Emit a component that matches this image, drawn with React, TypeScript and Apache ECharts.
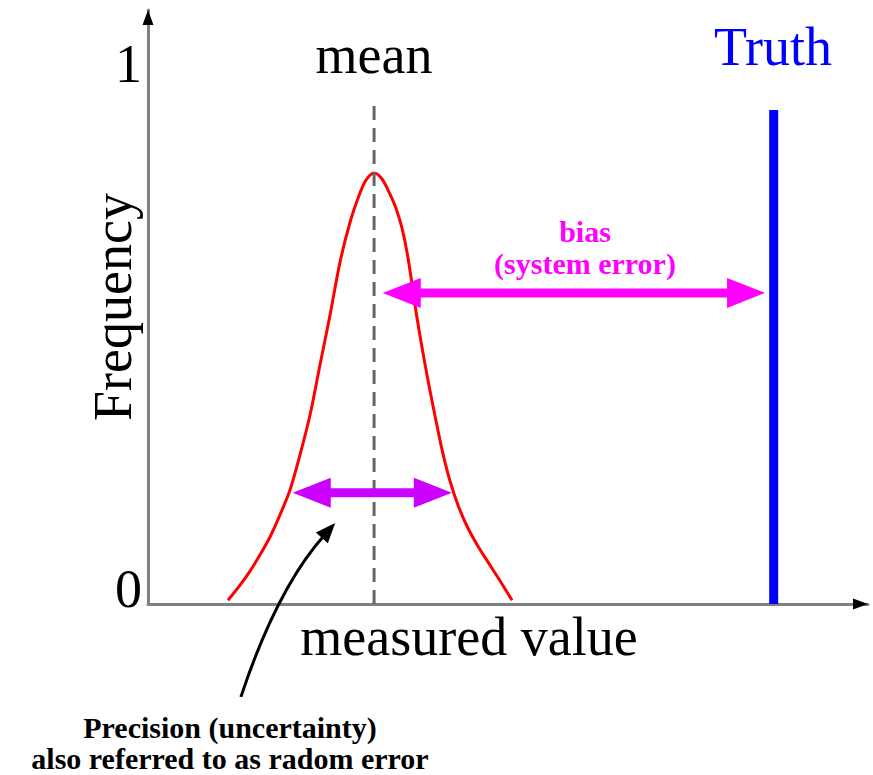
import React, { useEffect, useRef } from 'react';
import * as echarts from 'echarts';

const curveX = [11.11, 12.78, 14.17, 15.56, 16.94, 18.33, 19.72, 21.11, 22.5, 23.89, 25.28, 26.67, 28.06, 29.44, 30.28, 31.39, 32.5, 33.61, 34.44, 35.28, 36.11, 37.36, 38.75, 40.14, 40.97, 41.94, 43.06, 44.31, 45.83, 47.5, 48.89, 50.56];
const curveY = [0.007, 0.035, 0.061, 0.091, 0.124, 0.165, 0.211, 0.276, 0.35, 0.443, 0.535, 0.633, 0.707, 0.761, 0.785, 0.798, 0.787, 0.759, 0.733, 0.696, 0.641, 0.53, 0.424, 0.33, 0.278, 0.228, 0.183, 0.144, 0.107, 0.072, 0.043, 0.007];

// Mean (dashed) and truth (blue) lines: [x, top]
const meanLine = [31.4, 0.937];
const truthLine = [86.9, 0.915];

// Double arrows: [xStart, xEnd, y]
const biasArrow = [32.6, 85.7, 0.576];
const precisionArrow = [20.1, 42.2, 0.206];

// Curved pointer: [x0, y0, controlX, controlY, tipX, tipY]
const pointerCurve = [12.9, -0.172, 17.9, 0.029, 26.0, 0.15];

// Axis extents and tick labels
const xRange = [0, 100];
const yRange = [0, 1.1];
const yTickValues = [0, 1];
const yTickLabels = ['0', '1'];

const SERIF = "'Liberation Serif', 'Times New Roman', Times, serif";

export default function App() {
  const ref = useRef<HTMLDivElement>(null);

  useEffect(() => {
    document.body.style.margin = '0';
    const chart = echarts.init(ref.current!, null, { renderer: 'svg' });

    const doubleArrow = (color: string) => (params: any, api: any) => {
      const p1 = api.coord([api.value(0), api.value(2)]);
      const p2 = api.coord([api.value(1), api.value(2)]);
      const L = 38;
      const H = 15;
      const T = 9;
      const y = p1[1];
      return {
        type: 'group',
        children: [
          {
            type: 'rect',
            shape: { x: p1[0] + L - 2, y: y - T / 2, width: p2[0] - p1[0] - 2 * L + 4, height: T },
            style: { fill: color },
          },
          {
            type: 'polygon',
            shape: { points: [[p1[0], y], [p1[0] + L, y - H], [p1[0] + L, y + H]] },
            style: { fill: color },
          },
          {
            type: 'polygon',
            shape: { points: [[p2[0], y], [p2[0] - L, y - H], [p2[0] - L, y + H]] },
            style: { fill: color },
          },
        ],
      };
    };

    const option: any = {
      animation: false,
      grid: { left: 148, top: 10, width: 720, height: 594 },
      xAxis: {
        type: 'value',
        min: xRange[0],
        max: xRange[1],
        axisLine: { show: true, lineStyle: { color: '#808080', width: 3 } },
        axisTick: { show: false },
        axisLabel: { show: false },
        splitLine: { show: false },
        name: 'measured value',
        nameLocation: 'middle',
        nameGap: 6,
        nameMoveOverlap: false,
        nameTextStyle: { fontFamily: SERIF, fontSize: 54, color: '#000', padding: [0, 78, 0, 0] },
      },
      yAxis: {
        type: 'value',
        min: yRange[0],
        max: yRange[1],
        interval: 1,
        axisLine: { show: true, lineStyle: { color: '#808080', width: 3 } },
        axisTick: { show: false },
        splitLine: { show: false },
        axisLabel: {
          margin: 6,
          fontFamily: SERIF,
          fontSize: 54,
          color: '#000',
          formatter: (v: number) => {
            const i = yTickValues.indexOf(v);
            if (i < 0) return '';
            return i === 0 ? '{z|' + yTickLabels[i] + '}' : yTickLabels[i];
          },
          rich: { z: { fontFamily: SERIF, fontSize: 54, color: '#000', padding: [0, 0, 30, 0] } },
        },
        name: 'Frequency',
        nameLocation: 'middle',
        nameRotate: 90,
        nameGap: 8,
        nameMoveOverlap: false,
        nameTextStyle: { fontFamily: SERIF, fontSize: 54, color: '#000' },
      },
      series: [
        {
          type: 'line',
          data: curveX.map((x, i) => [x, curveY[i]]),
          smooth: 0.3,
          symbol: 'none',
          lineStyle: { color: '#ff0000', width: 3 },
          z: 2,
        },
        {
          type: 'line',
          data: [[meanLine[0], 0], [meanLine[0], meanLine[1]]],
          symbol: 'none',
          lineStyle: { color: '#666666', width: 3, type: [14, 8] },
          z: 3,
        },
        {
          type: 'line',
          data: [[truthLine[0], 0], [truthLine[0], truthLine[1]]],
          symbol: 'none',
          lineStyle: { color: '#0000ff', width: 9, cap: 'butt' },
          z: 3,
        },
        {
          type: 'custom',
          data: [biasArrow],
          renderItem: doubleArrow('#ff00ff'),
          z: 4,
        },
        {
          type: 'custom',
          data: [precisionArrow],
          renderItem: doubleArrow('#cc00ff'),
          z: 4,
        },
        {
          type: 'custom',
          data: [pointerCurve],
          z: 4,
          renderItem: (params: any, api: any) => {
            const s = api.coord([api.value(0), api.value(1)]);
            const c = api.coord([api.value(2), api.value(3)]);
            const t = api.coord([api.value(4), api.value(5)]);
            const dx = t[0] - c[0];
            const dy = t[1] - c[1];
            const len = Math.sqrt(dx * dx + dy * dy);
            const ux = dx / len;
            const uy = dy / len;
            const nx = -uy;
            const ny = ux;
            const L = 20;
            const W = 8;
            const bx = t[0] - ux * L;
            const by = t[1] - uy * L;
            return {
              type: 'group',
              children: [
                {
                  type: 'bezierCurve',
                  shape: { x1: s[0], y1: s[1], cpx1: c[0], cpy1: c[1], x2: bx + ux * 4, y2: by + uy * 4 },
                  style: { stroke: '#000', lineWidth: 3, fill: 'none' },
                },
                {
                  type: 'polygon',
                  shape: { points: [[t[0], t[1]], [bx + nx * W, by + ny * W], [bx - nx * W, by - ny * W]] },
                  style: { fill: '#000' },
                },
              ],
            };
          },
        },
        {
          type: 'custom',
          data: [
            [xRange[1], yRange[0], 1, 0],
            [xRange[0], yRange[1], 0, -1],
          ],
          z: 5,
          renderItem: (params: any, api: any) => {
            const t = api.coord([api.value(0), api.value(1)]);
            const ux = api.value(2);
            const uy = api.value(3);
            const L = 15;
            const W = 5.5;
            const bx = t[0] - ux * L;
            const by = t[1] - uy * L;
            return {
              type: 'polygon',
              shape: { points: [[t[0], t[1]], [bx - uy * W, by + ux * W], [bx + uy * W, by - ux * W]] },
              style: { fill: '#000' },
            };
          },
        },
      ],
      graphic: [
        {
          type: 'text',
          x: 374,
          y: 55,
          style: { text: 'mean', fontFamily: SERIF, fontSize: 54, fill: '#000', align: 'center', verticalAlign: 'middle' },
        },
        {
          type: 'text',
          x: 773,
          y: 47,
          style: { text: 'Truth', fontFamily: SERIF, fontSize: 54, fill: '#0000ff', align: 'center', verticalAlign: 'middle' },
        },
        {
          type: 'text',
          x: 585,
          y: 231,
          style: { text: 'bias', fontFamily: SERIF, fontSize: 30, fontWeight: 'bold', fill: '#ff00ff', align: 'center', verticalAlign: 'middle' },
        },
        {
          type: 'text',
          x: 585,
          y: 263,
          style: { text: '(system error)', fontFamily: SERIF, fontSize: 30, fontWeight: 'bold', fill: '#ff00ff', align: 'center', verticalAlign: 'middle' },
        },
        {
          type: 'text',
          x: 230,
          y: 727,
          style: { text: 'Precision (uncertainty)', fontFamily: SERIF, fontSize: 30, fontWeight: 'bold', fill: '#000', align: 'center', verticalAlign: 'middle' },
        },
        {
          type: 'text',
          x: 230,
          y: 758,
          style: { text: 'also referred to as radom error', fontFamily: SERIF, fontSize: 30, fontWeight: 'bold', fill: '#000', align: 'center', verticalAlign: 'middle' },
        },
      ],
    };

    chart.setOption(option);
    return () => chart.dispose();
  }, []);

  return <div ref={ref} style={{ width: 873, height: 775, background: '#fff' }} />;
}
